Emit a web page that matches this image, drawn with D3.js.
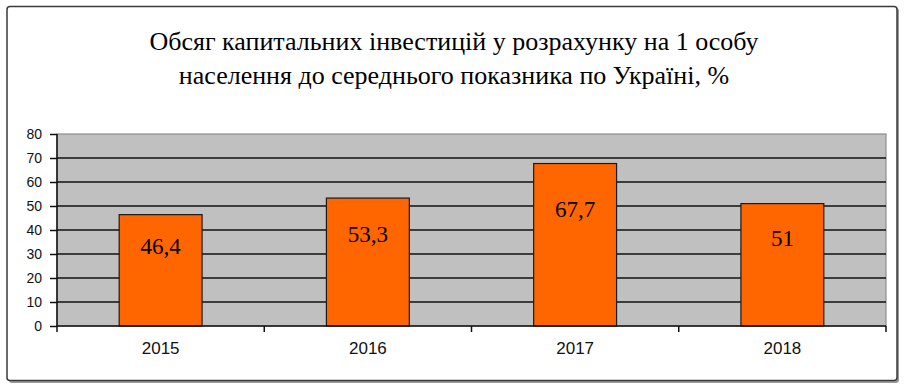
<!DOCTYPE html>
<html><head><meta charset="utf-8">
<script src="https://cdn.jsdelivr.net/npm/d3@7"></script>
<style>body{margin:0;background:#fff}svg{display:block}</style>
</head><body>
<svg id="c" width="909" height="391"></svg>
<script>
const titleLines = ["Обсяг капитальних інвестицій у розрахунку на 1 особу", "населення до середнього показника по Україні, %"];
const categories = ["2015", "2016", "2017", "2018"];
const values = [46.4, 53.3, 67.7, 51];
const valueLabels = ["46,4", "53,3", "67,7", "51"];
const yTicks = [0, 10, 20, 30, 40, 50, 60, 70, 80];

const svg = d3.select("#c");
// frame with shadow
svg.append("rect").attr("x", 9).attr("y", 8).attr("width", 890).attr("height", 375).attr("rx", 3).attr("fill", "#9a9a9a");
svg.append("rect").attr("x", 7).attr("y", 6.5).attr("width", 890).attr("height", 374).attr("rx", 3)
  .attr("fill", "#fff").attr("stroke", "#3a3a3a").attr("stroke-width", 1.5);

const m = {l: 57, r: 886, t: 134, b: 326};
const x = d3.scaleBand().domain(categories).range([m.l, m.r]);
const y = d3.scaleLinear().domain([0, 80]).range([m.b, m.t]);

svg.append("rect").attr("x", m.l).attr("y", m.t).attr("width", m.r - m.l).attr("height", m.b - m.t)
  .attr("fill", "#c0c0c0").attr("stroke", "#8c8c8c").attr("stroke-width", 1.2);

svg.append("g").selectAll("line").data(yTicks.filter(d => d > 0 && d < 80)).join("line")
  .attr("x1", m.l).attr("x2", m.r).attr("y1", d => y(d)).attr("y2", d => y(d))
  .attr("stroke", "#111").attr("stroke-width", 1.5);

const bw = x.bandwidth() * 0.4;
svg.append("g").selectAll("rect").data(values).join("rect")
  .attr("x", (d, i) => x(categories[i]) + x.bandwidth() / 2 - bw / 2)
  .attr("y", d => y(d)).attr("width", bw).attr("height", d => y(0) - y(d))
  .attr("fill", "#ff6600").attr("stroke", "#1a1a1a").attr("stroke-width", 1.2);

svg.append("g").selectAll("text").data(values).join("text")
  .attr("x", (d, i) => x(categories[i]) + x.bandwidth() / 2)
  .attr("y", d => y(d * 0.72)).attr("dy", "0.35em")
  .attr("text-anchor", "middle").attr("font-family", "Liberation Serif, Times New Roman, serif")
  .attr("font-size", 23).attr("fill", "#000")
  .text((d, i) => valueLabels[i]);

// y axis
const ya = svg.append("g").attr("transform", `translate(${m.l},0)`)
  .call(d3.axisLeft(y).tickValues(yTicks).tickSize(7).tickPadding(8).tickFormat(d3.format("d")));
ya.select(".domain").attr("stroke", "#111").attr("stroke-width", 1.5).attr("d", `M-0,${m.t}V${m.b}`);
ya.selectAll(".tick line").attr("stroke", "#111").attr("stroke-width", 1.5);
ya.selectAll("text").attr("font-family", "Liberation Sans, Arial, sans-serif").attr("font-size", 14).attr("fill", "#111");

// x axis
const xa = svg.append("g").attr("transform", `translate(0,${m.b})`)
  .call(d3.axisBottom(x).tickSize(0).tickPadding(16));
xa.select(".domain").attr("stroke", "#111").attr("stroke-width", 1.5).attr("d", `M${m.l},0H${m.r}`);
xa.selectAll("text").attr("font-family", "Liberation Sans, Arial, sans-serif").attr("font-size", 17).attr("fill", "#111");
const bounds = categories.map(c => x(c)).concat([m.r]);
xa.selectAll(".sep").data(bounds).join("line").attr("class", "sep")
  .attr("x1", d => d).attr("x2", d => d).attr("y1", 0).attr("y2", 6)
  .attr("stroke", "#111").attr("stroke-width", 1.5);

svg.append("g").selectAll("text").data(titleLines).join("text")
  .attr("x", 454).attr("y", (d, i) => 50 + i * 34).attr("text-anchor", "middle")
  .attr("font-family", "Liberation Serif, Times New Roman, serif").attr("font-size", 26).attr("fill", "#000")
  .text(d => d);
</script>
</body></html>
